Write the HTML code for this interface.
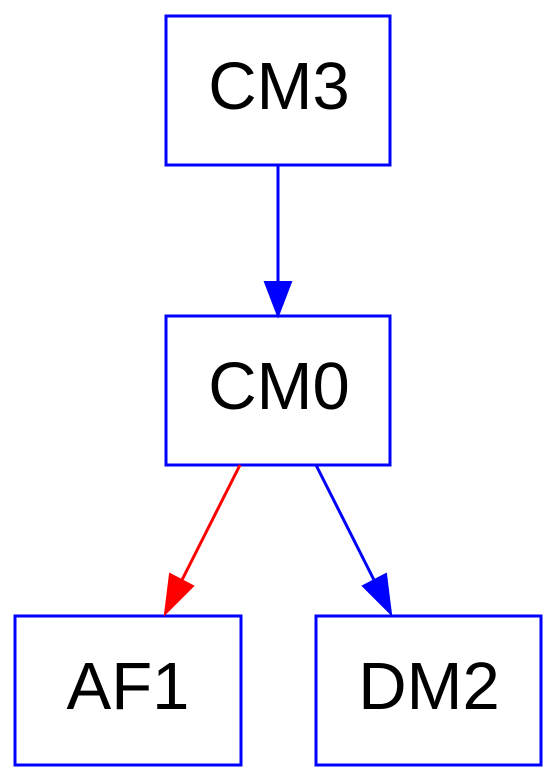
<!DOCTYPE html>
<html><head><meta charset="utf-8"><style>
html,body{margin:0;padding:0;background:#fff;width:558px;height:783px;overflow:hidden}
svg{display:block}
text{font-family:"Liberation Sans",Arial,sans-serif;font-size:67px;fill:#000}
</style></head><body>
<svg width="558" height="783" viewBox="0 0 558 783" xmlns="http://www.w3.org/2000/svg">
<g fill="none" stroke="#0000ff" stroke-width="3">
<rect x="166" y="16" width="224" height="149"/>
<rect x="166" y="316" width="224" height="149"/>
<rect x="15" y="616" width="226" height="149"/>
<rect x="316" y="616" width="225" height="149"/>
</g>
<line x1="278" y1="165" x2="278" y2="282" stroke="#0000ff" stroke-width="3"/>
<polygon points="265,282 291,282 278,316" fill="#0000ff" stroke="#0000ff" stroke-width="2"/>
<line x1="240" y1="465" x2="182" y2="580" stroke="#ff0000" stroke-width="3"/>
<polygon points="170,574 193,586 165,614" fill="#ff0000" stroke="#ff0000" stroke-width="2"/>
<line x1="316" y1="465" x2="374" y2="580" stroke="#0000ff" stroke-width="3"/>
<polygon points="363,586 386,574 391,614" fill="#0000ff" stroke="#0000ff" stroke-width="2"/>
<text x="279" y="109" text-anchor="middle">CM3</text>
<text x="279" y="409" text-anchor="middle">CM0</text>
<text x="128" y="709" text-anchor="middle">AF1</text>
<text x="429" y="709" text-anchor="middle">DM2</text>
</svg>
</body></html>
